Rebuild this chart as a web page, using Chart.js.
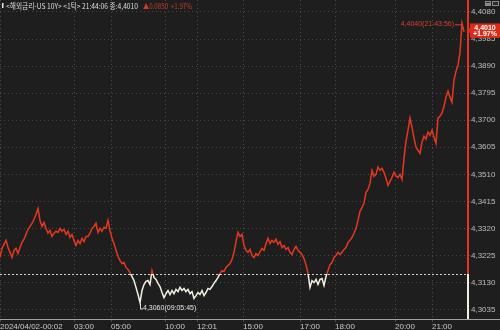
<!DOCTYPE html>
<html>
<head>
<meta charset="utf-8">
<script src="https://cdn.jsdelivr.net/npm/chart.js@4"></script>
<style>
  html, body { margin: 0; padding: 0; background: #1e1e1e; }
  #wrap { width: 500px; height: 330px; }
</style>
</head>
<body>
<div id="wrap"><canvas id="c" width="500" height="330"></canvas></div>
<script>
// US 10Y, 1-tick chart, sampled evenly along the tick axis
const prices = [
  4.3218, 4.3250, 4.3264, 4.3278, 4.3253, 4.3236, 4.3218, 4.3243, 4.3250, 4.3232,
  4.3253, 4.3271, 4.3282, 4.3299, 4.3317, 4.3327, 4.3338, 4.3352, 4.3369, 4.3390,
  4.3348, 4.3327, 4.3341, 4.3320, 4.3303, 4.3313, 4.3292, 4.3303, 4.3310, 4.3306,
  4.3320, 4.3310, 4.3317, 4.3299, 4.3310, 4.3289, 4.3299, 4.3278, 4.3260, 4.3278,
  4.3267, 4.3285, 4.3274, 4.3292, 4.3292, 4.3303, 4.3320, 4.3327, 4.3338, 4.3306,
  4.3320, 4.3310, 4.3324, 4.3320, 4.3348, 4.3313, 4.3285, 4.3267, 4.3243, 4.3222,
  4.3207, 4.3197, 4.3200, 4.3183, 4.3176, 4.3165, 4.3151, 4.3137, 4.3113, 4.3088,
  4.3060, 4.3102, 4.3123, 4.3134, 4.3137, 4.3123, 4.3172, 4.3148, 4.3141, 4.3127,
  4.3116, 4.3095, 4.3077, 4.3091, 4.3102, 4.3088, 4.3102, 4.3091, 4.3106, 4.3098,
  4.3113, 4.3102, 4.3109, 4.3098, 4.3106, 4.3091, 4.3098, 4.3074, 4.3084, 4.3095,
  4.3088, 4.3102, 4.3084, 4.3095, 4.3109, 4.3106, 4.3116, 4.3127, 4.3137, 4.3148,
  4.3162, 4.3172, 4.3169, 4.3183, 4.3190, 4.3197, 4.3211, 4.3236, 4.3274, 4.3306,
  4.3292, 4.3299, 4.3260, 4.3243, 4.3236, 4.3246, 4.3225, 4.3218, 4.3232, 4.3225,
  4.3239, 4.3250, 4.3243, 4.3267, 4.3285, 4.3267, 4.3278, 4.3271, 4.3282, 4.3264,
  4.3274, 4.3253, 4.3260, 4.3246, 4.3253, 4.3236, 4.3229, 4.3246, 4.3257, 4.3243,
  4.3236, 4.3229, 4.3214, 4.3193, 4.3162, 4.3113, 4.3137, 4.3130, 4.3141, 4.3123,
  4.3141, 4.3144, 4.3120, 4.3151, 4.3172, 4.3193, 4.3200, 4.3218, 4.3225, 4.3236,
  4.3229, 4.3236, 4.3246, 4.3253, 4.3271, 4.3278, 4.3289, 4.3303, 4.3320, 4.3348,
  4.3380, 4.3394, 4.3408, 4.3447, 4.3457, 4.3478, 4.3524, 4.3503, 4.3510, 4.3535,
  4.3524, 4.3531, 4.3517, 4.3496, 4.3471, 4.3485, 4.3499, 4.3517, 4.3503, 4.3499,
  4.3510, 4.3492, 4.3566, 4.3626, 4.3665, 4.3707, 4.3675, 4.3637, 4.3605, 4.3594,
  4.3584, 4.3623, 4.3644, 4.3633, 4.3658, 4.3647, 4.3665, 4.3640, 4.3619, 4.3707,
  4.3714, 4.3725, 4.3749, 4.3781, 4.3802, 4.3781, 4.3763, 4.3841, 4.3872, 4.3893,
  4.3939, 4.4040, 4.4010
];
const prevClose = 4.3160;
const yTicks = [4.3035, 4.3130, 4.3225, 4.3320, 4.3415, 4.3510, 4.3605, 4.3700, 4.3795, 4.3890, 4.3985, 4.4080];
const xTickIdx = [0, 37, 55.5, 82.5, 98.5, 121.5, 150, 167.5, 197.5, 216];
const xTickLabels = ["2024/04/02-00:02", "03:00", "05:00", "10:00", "12:01", "15:00", "17:00", "18:00", "20:00", "21:00"];
const titleText = "<해외금리-US 10Y> <1틱>";
const lastTime = "21:44:06";
const maxTime = "21:43:56";
const minTime = "09:05:45";

const RED = '#e5361f';
const WHITE = '#f1efdf';
const NARROW = "'Liberation Sans Narrow', 'Arial Narrow', sans-serif";

const fmt = v => v.toFixed(4).replace('.', ',');
const last = prices[prices.length - 1];
const chg = last - prevClose;
const pct = chg / prevClose * 100;
const iMax = prices.indexOf(Math.max(...prices));
const iMin = prices.indexOf(Math.min(...prices));

function lineColor(ctx) {
  const chart = ctx.chart;
  const area = chart.chartArea;
  if (!area) return RED;
  const yb = chart.scales.y.getPixelForValue(prevClose);
  const t = Math.min(Math.max((yb - area.top) / (area.bottom - area.top), 0), 1);
  const g = chart.ctx.createLinearGradient(0, area.top, 0, area.bottom);
  g.addColorStop(0, RED);
  g.addColorStop(t, RED);
  g.addColorStop(t, WHITE);
  g.addColorStop(1, WHITE);
  return g;
}

const extras = {
  id: 'extras',
  beforeDraw(chart) {
    const c = chart.ctx;
    c.save();
    c.fillStyle = '#1e1e1e';
    c.fillRect(0, 0, chart.width, chart.height);
    c.restore();
  },
  beforeDatasetsDraw(chart) {
    const c = chart.ctx, a = chart.chartArea;
    const yb = Math.round(chart.scales.y.getPixelForValue(prevClose)) + 0.5;
    c.save();
    c.strokeStyle = '#cfcfcf';
    c.lineWidth = 1;
    c.setLineDash([2, 2]);
    c.beginPath();
    c.moveTo(a.left, yb);
    c.lineTo(a.right, yb);
    c.stroke();
    c.restore();
  },
  afterDraw(chart) {
    const c = chart.ctx, a = chart.chartArea;
    const xs = chart.scales.x, ys = chart.scales.y;
    const yb = ys.getPixelForValue(prevClose);
    c.save();
    // axis lines
    c.strokeStyle = '#a0a0a0';
    c.lineWidth = 1;
    c.beginPath();
    c.moveTo(0, a.bottom + 0.5);
    c.lineTo(chart.width, a.bottom + 0.5);
    c.stroke();
    c.lineWidth = 2;
    c.strokeStyle = RED;
    c.beginPath();
    c.moveTo(a.right, 0);
    c.lineTo(a.right, yb);
    c.stroke();
    c.strokeStyle = WHITE;
    c.beginPath();
    c.moveTo(a.right, yb);
    c.lineTo(a.right, a.bottom);
    c.stroke();

    // max annotation
    c.lineWidth = 1;
    const mx = xs.getPixelForValue(iMax), my = ys.getPixelForValue(prices[iMax]);
    c.font = "7px " + NARROW;
    c.textBaseline = 'middle';
    c.fillStyle = '#d8402c';
    c.strokeStyle = '#d8402c';
    c.textAlign = 'right';
    c.fillText(fmt(prices[iMax]) + "(" + maxTime + ")", mx - 8, my + 1);
    c.beginPath();
    c.moveTo(mx - 7, my + 1.5);
    c.lineTo(mx - 0.5, my + 1.5);
    c.lineTo(mx - 0.5, my + 4);
    c.stroke();

    // min annotation
    const nx = xs.getPixelForValue(iMin), ny = ys.getPixelForValue(prices[iMin]);
    c.fillStyle = '#e2e2e2';
    c.strokeStyle = '#e2e2e2';
    c.textAlign = 'left';
    c.fillText(fmt(prices[iMin]) + "(" + minTime + ")", nx + 3, ny + 6);
    c.beginPath();
    c.moveTo(nx + 0.5, ny + 1);
    c.lineTo(nx + 0.5, ny + 6.5);
    c.lineTo(nx + 3, ny + 6.5);
    c.stroke();

    // last price badge
    const ly = ys.getPixelForValue(last) - 1.5;
    c.fillStyle = '#d92c1b';
    c.fillRect(470, ly - 7, 30, 14.5);
    c.beginPath();
    c.moveTo(466, ly);
    c.lineTo(470.5, ly - 3);
    c.lineTo(470.5, ly + 3);
    c.closePath();
    c.fill();
    c.fillStyle = '#ffffff';
    c.textAlign = 'center';
    c.font = "bold 7px " + NARROW;
    c.fillText(fmt(last), 485, ly - 2.8);
    c.fillText("+" + pct.toFixed(2) + "%", 485, ly + 3.8);

    // header
    c.fillStyle = '#e8e8e8';
    c.fillRect(2, 3, 1.5, 5);
    c.textAlign = 'left';
    c.textBaseline = 'alphabetic';
    c.font = "7.5px 'Noto Sans CJK KR', sans-serif";
    c.fillStyle = '#dedede';
    c.fillText(titleText + " " + lastTime + " 종:" + fmt(last), 6, 8.5, 132);
    c.fillStyle = '#cc3a2a';
    c.fillText("▲" + chg.toFixed(4) + "  +" + pct.toFixed(2) + "%", 143, 8.5, 49);

    // small toolbar icons
    c.fillStyle = '#8a8a8a';
    c.fillRect(485, 1, 6, 5);
    c.fillRect(492, 1, 7, 5);
    c.fillStyle = '#2a2a2a';
    c.fillRect(486, 2, 4, 1);
    c.fillRect(493, 2, 5, 3);
    c.restore();
  }
};

new Chart(document.getElementById('c'), {
  type: 'line',
  data: {
    datasets: [{
      data: prices.map((v, i) => ({ x: i, y: v })),
      borderColor: lineColor,
      borderWidth: 1.5,
      pointRadius: 0,
      tension: 0
    }]
  },
  options: {
    responsive: false,
    animation: false,
    devicePixelRatio: 1,
    layout: { padding: 0 },
    plugins: { legend: { display: false }, tooltip: { enabled: false } },
    scales: {
      x: {
        type: 'linear',
        min: 0,
        max: 234,
        afterBuildTicks: s => { s.ticks = xTickIdx.map(v => ({ value: v })); },
        afterFit: s => { s.height = 11; s.paddingLeft = 0; s.paddingRight = 0; },
        ticks: {
          autoSkip: false,
          maxRotation: 0,
          align: 'start',
          padding: 0,
          color: '#c8c8c8',
          font: { family: NARROW, size: 8 },
          callback: (v, i) => xTickLabels[i]
        },
        grid: { color: '#4a4a4a', tickLength: 3 },
        border: { display: false, dash: [1, 3] }
      },
      y: {
        type: 'linear',
        position: 'right',
        min: 4.3002,
        max: 4.4122,
        afterBuildTicks: s => { s.ticks = yTicks.map(v => ({ value: v })); },
        afterFit: s => { s.width = 32; s.paddingTop = 0; s.paddingBottom = 0; },
        ticks: {
          padding: 1,
          color: '#bdbdbd',
          font: { family: NARROW, size: 8 },
          callback: v => fmt(v)
        },
        grid: { color: '#474747', tickLength: 2 },
        border: { display: false, dash: [1, 3] }
      }
    }
  },
  plugins: [extras]
});
</script>
</body>
</html>
